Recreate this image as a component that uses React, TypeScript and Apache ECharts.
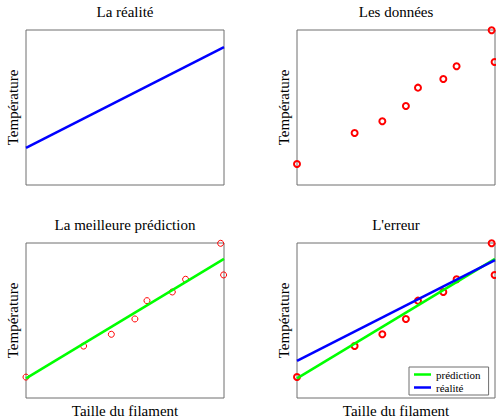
import React, { useEffect, useRef } from "react";
import * as echarts from "echarts";

// Measured data (filament size vs temperature), arbitrary units 0..10
const dataX = [0, 2.91, 4.31, 5.5, 6.11, 7.39, 8.06, 9.83, 9.98];
const dataY = [1.35, 3.35, 4.11, 5.1, 6.28, 6.84, 7.66, 9.98, 7.94];

// Line endpoints
const lineX = [0, 10];
const realityY = [2.39, 8.9];
const predictionY = [1.27, 8.98];

const titles = ["La réalité", "Les données", "La meilleure prédiction", "L'erreur"];
const yLabel = "Température";
const xLabel = "Taille du filament";
const legendNames = ["prédiction", "réalité"];

const FONT = "'Liberation Serif', 'Times New Roman', serif";
const RED = "#ff0000";
const BLUE = "#0000ff";
const GREEN = "#00ff00";

const pts = (xs: number[], ys: number[]) => xs.map((x, i) => [x, ys[i]]);

export default function App() {
  const ref = useRef<HTMLDivElement>(null);

  useEffect(() => {
    if (!ref.current) return;
    const chart = echarts.init(ref.current, undefined, { renderer: "svg" });

    const grids = [
      { left: 26, top: 30, width: 198, height: 155 },
      { left: 297, top: 30, width: 198, height: 155 },
      { left: 26, top: 243, width: 198, height: 157 },
      { left: 297, top: 243, width: 198, height: 157 },
    ].map((g) => ({
      ...g,
      show: true,
      borderColor: "#6e6e6e",
      borderWidth: 1,
      backgroundColor: "transparent",
    }));

    const centers = [125, 396, 125, 396];
    const titleTops = [4, 4, 217, 217];

    const xAxes = grids.map((_, i) => ({
      type: "value",
      gridIndex: i,
      min: 0,
      max: 10,
      axisLine: { show: false },
      axisTick: { show: false },
      axisLabel: { show: false },
      splitLine: { show: false },
      name: i >= 2 ? xLabel : "",
      nameLocation: "middle",
      nameGap: 5,
      nameTextStyle: {
        fontFamily: FONT,
        fontSize: 15,
        color: "#000",
        verticalAlign: "top",
      },
    }));

    const yAxes = grids.map((_, i) => ({
      type: "value",
      gridIndex: i,
      min: 0,
      max: 10,
      axisLine: { show: false },
      axisTick: { show: false },
      axisLabel: { show: false },
      splitLine: { show: false },
      name: yLabel,
      nameLocation: "middle",
      nameGap: 6,
      nameTextStyle: {
        fontFamily: FONT,
        fontSize: 15,
        color: "#000",
      },
    }));

    const lineSeries = (name: string, ys: number[], color: string, idx: number) => ({
      type: "line",
      name,
      xAxisIndex: idx,
      yAxisIndex: idx,
      data: pts(lineX, ys),
      showSymbol: false,
      symbol: "none",
      lineStyle: { color, width: 2.5 },
      itemStyle: { color },
      silent: true,
    });

    const scatterSeries = (idx: number, thick: boolean) => ({
      type: "scatter",
      name: "données",
      xAxisIndex: idx,
      yAxisIndex: idx,
      data: pts(dataX, dataY),
      symbol: "circle",
      symbolSize: 6,
      clip: false,
      itemStyle: {
        color: "transparent",
        borderColor: RED,
        borderWidth: thick ? 2 : 1,
        opacity: 1,
      },
      silent: true,
    });

    chart.setOption({
      animation: false,
      backgroundColor: "#fff",
      title: titles.map((t, i) => ({
        text: t,
        left: centers[i],
        top: titleTops[i],
        textAlign: "center",
        padding: 0,
        textStyle: {
          fontFamily: FONT,
          fontSize: 15,
          fontWeight: "normal",
          color: "#000",
        },
      })),
      grid: grids,
      xAxis: xAxes,
      yAxis: yAxes,
      legend: {
        data: legendNames,
        orient: "vertical",
        left: 409,
        top: 367,
        icon: "rect",
        itemWidth: 17,
        itemHeight: 2.5,
        itemGap: 0,
        padding: [1, 8, 1, 5],
        backgroundColor: "#fff",
        borderColor: "#6e6e6e",
        borderWidth: 1,
        borderRadius: 0,
        selectedMode: false,
        textStyle: {
          fontFamily: FONT,
          fontSize: 11,
          color: "#000",
          lineHeight: 13,
        },
      },
      series: [
        lineSeries("réalité", realityY, BLUE, 0),
        scatterSeries(1, true),
        lineSeries("prédiction", predictionY, GREEN, 2),
        scatterSeries(2, false),
        lineSeries("prédiction", predictionY, GREEN, 3),
        lineSeries("réalité", realityY, BLUE, 3),
        scatterSeries(3, true),
      ],
    });

    return () => chart.dispose();
  }, []);

  return (
    <div
      ref={ref}
      style={{ position: "absolute", left: 0, top: 0, width: 496, height: 419, background: "#fff" }}
    />
  );
}
